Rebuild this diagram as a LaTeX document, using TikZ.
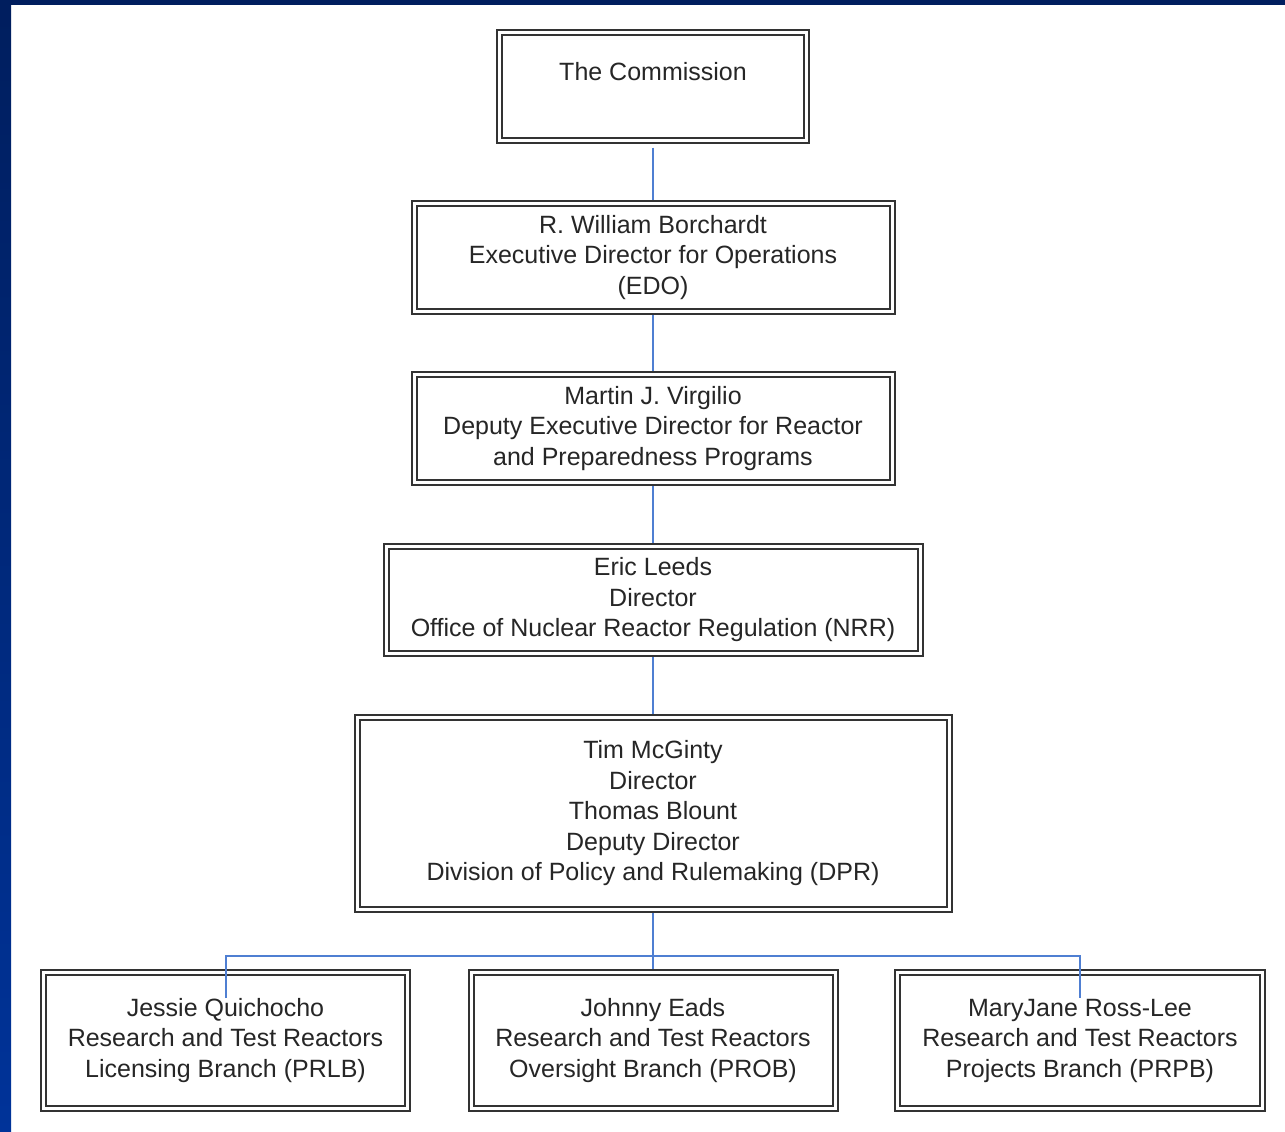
\documentclass[tikz,border=0pt]{standalone}
\usepackage{fontspec}
\setmainfont{Liberation Sans}
\usetikzlibrary{backgrounds}
\definecolor{navy}{HTML}{001E5E}
\definecolor{stripbot}{HTML}{003399}
\definecolor{conn}{HTML}{4F7FD2}
\definecolor{boxline}{HTML}{333333}
\begin{document}
\begin{tikzpicture}[x=1pt,y=-1pt,
  orgbox/.style={draw=boxline, double=white, line width=2pt, double distance=3pt,
    fill=white, align=center, inner sep=0pt, text=black!85,
    font=\fontsize{25}{30.5}\selectfont},
  link/.style={draw=conn, line width=1.5pt}]
\useasboundingbox (0,0) rectangle (1285,1132);

\node[orgbox, minimum width=307pt, minimum height=108pt] (comm) at (653,86.5) {The Commission\\\mbox{}};
\node[orgbox, minimum width=478pt, minimum height=108pt] (edo) at (653,257.5) {R. William Borchardt\\Executive Director for Operations\\(EDO)};
\node[orgbox, minimum width=478pt, minimum height=108pt] (virg) at (653,428.5) {Martin J. Virgilio\\Deputy Executive Director for Reactor\\and Preparedness Programs};
\node[orgbox, minimum width=534pt, minimum height=107pt] (leeds) at (653,600) {Eric Leeds\\Director\\Office of Nuclear Reactor Regulation (NRR)};
\node[orgbox, minimum width=592pt, minimum height=192pt] (dpr) at (653,813.5) {Tim McGinty\\Director\\Thomas Blount\\Deputy Director\\Division of Policy and Rulemaking (DPR)};
\node[orgbox, minimum width=364pt, minimum height=136pt] (prlb) at (225.5,1040.5) {Jessie Quichocho\\Research and Test Reactors\\Licensing Branch (PRLB)};
\node[orgbox, minimum width=364pt, minimum height=136pt] (prob) at (653,1040.5) {Johnny Eads\\Research and Test Reactors\\Oversight Branch (PROB)};
\node[orgbox, minimum width=365pt, minimum height=136pt] (prpb) at (1080,1040.5) {MaryJane Ross-Lee\\Research and Test Reactors\\Projects Branch (PRPB)};

\begin{scope}[on background layer]
\fill[white] (0,0) rectangle (1285,1132);
\shade[top color=navy, bottom color=stripbot] (0,0) rectangle (11,1132);
\fill[navy] (0,0) rectangle (1285,5);
\draw[link, shorten <=6pt] (comm.south) -- (edo.north);
\draw[link] (edo.south) -- (virg.north);
\draw[link] (virg.south) -- (leeds.north);
\draw[link] (leeds.south) -- (dpr.north);
\draw[link] (dpr.south) -- (prob.north);
\end{scope}
\coordinate (bus) at (653,956);
\coordinate (lend) at (226,998);
\coordinate (rend) at (1080,998);
\draw[link] (lend) -- (lend |- bus) -- (rend |- bus) -- (rend);
\end{tikzpicture}
\end{document}
